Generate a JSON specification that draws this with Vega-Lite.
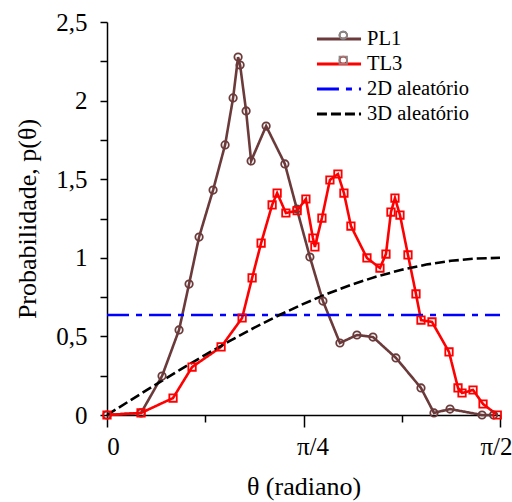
{
  "$schema": "https://vega.github.io/schema/vega-lite/v6.json",
  "width": 393,
  "height": 393,
  "autosize": {"type": "none"},
  "padding": {"left": 107, "top": 22, "right": 12, "bottom": 87},
  "config": {
    "view": {"stroke": null},
    "font": "Liberation Serif",
    "axis": {"grid": false, "domainColor": "black", "domainWidth": 1.5, "tickColor": "black", "tickWidth": 1.5, "labelColor": "black", "titleColor": "black", "titleFontWeight": "normal"},
    "legend": {"labelFont": "Liberation Serif"}
  },
  "data": {"values": [
    {"series": "PL1", "theta": 0, "p": 0},
    {"series": "PL1", "theta": 0.136, "p": 0.013},
    {"series": "PL1", "theta": 0.220, "p": 0.248},
    {"series": "PL1", "theta": 0.288, "p": 0.541},
    {"series": "PL1", "theta": 0.328, "p": 0.833},
    {"series": "PL1", "theta": 0.368, "p": 1.132},
    {"series": "PL1", "theta": 0.424, "p": 1.431},
    {"series": "PL1", "theta": 0.472, "p": 1.718},
    {"series": "PL1", "theta": 0.504, "p": 2.017},
    {"series": "PL1", "theta": 0.524, "p": 2.277},
    {"series": "PL1", "theta": 0.532, "p": 2.226},
    {"series": "PL1", "theta": 0.556, "p": 1.934},
    {"series": "PL1", "theta": 0.576, "p": 1.616},
    {"series": "PL1", "theta": 0.636, "p": 1.838},
    {"series": "PL1", "theta": 0.711, "p": 1.597},
    {"series": "PL1", "theta": 0.759, "p": 1.310},
    {"series": "PL1", "theta": 0.811, "p": 1.005},
    {"series": "PL1", "theta": 0.863, "p": 0.725},
    {"series": "PL1", "theta": 0.931, "p": 0.458},
    {"series": "PL1", "theta": 0.999, "p": 0.509},
    {"series": "PL1", "theta": 1.063, "p": 0.496},
    {"series": "PL1", "theta": 1.155, "p": 0.363},
    {"series": "PL1", "theta": 1.255, "p": 0.172},
    {"series": "PL1", "theta": 1.307, "p": 0.013},
    {"series": "PL1", "theta": 1.371, "p": 0.038},
    {"series": "PL1", "theta": 1.499, "p": 0.0},
    {"series": "PL1", "theta": 1.545, "p": 0.0},
    {"series": "TL3", "theta": 0, "p": 0},
    {"series": "TL3", "theta": 0.136, "p": 0.013},
    {"series": "TL3", "theta": 0.264, "p": 0.108},
    {"series": "TL3", "theta": 0.340, "p": 0.305},
    {"series": "TL3", "theta": 0.456, "p": 0.433},
    {"series": "TL3", "theta": 0.540, "p": 0.617},
    {"series": "TL3", "theta": 0.580, "p": 0.872},
    {"series": "TL3", "theta": 0.616, "p": 1.094},
    {"series": "TL3", "theta": 0.660, "p": 1.336},
    {"series": "TL3", "theta": 0.680, "p": 1.412},
    {"series": "TL3", "theta": 0.715, "p": 1.285},
    {"series": "TL3", "theta": 0.760, "p": 1.300},
    {"series": "TL3", "theta": 0.795, "p": 1.374},
    {"series": "TL3", "theta": 0.823, "p": 1.126},
    {"series": "TL3", "theta": 0.831, "p": 1.069},
    {"series": "TL3", "theta": 0.859, "p": 1.253},
    {"series": "TL3", "theta": 0.891, "p": 1.495},
    {"series": "TL3", "theta": 0.923, "p": 1.533},
    {"series": "TL3", "theta": 0.947, "p": 1.412},
    {"series": "TL3", "theta": 0.975, "p": 1.202},
    {"series": "TL3", "theta": 1.039, "p": 0.999},
    {"series": "TL3", "theta": 1.091, "p": 0.935},
    {"series": "TL3", "theta": 1.115, "p": 1.024},
    {"series": "TL3", "theta": 1.135, "p": 1.291},
    {"series": "TL3", "theta": 1.151, "p": 1.380},
    {"series": "TL3", "theta": 1.171, "p": 1.272},
    {"series": "TL3", "theta": 1.203, "p": 1.018},
    {"series": "TL3", "theta": 1.235, "p": 0.770},
    {"series": "TL3", "theta": 1.255, "p": 0.604},
    {"series": "TL3", "theta": 1.299, "p": 0.592},
    {"series": "TL3", "theta": 1.367, "p": 0.401},
    {"series": "TL3", "theta": 1.403, "p": 0.172},
    {"series": "TL3", "theta": 1.419, "p": 0.140},
    {"series": "TL3", "theta": 1.463, "p": 0.159},
    {"series": "TL3", "theta": 1.503, "p": 0.070},
    {"series": "TL3", "theta": 1.560, "p": 0.0},
    {"series": "2D aleatório", "theta": 0, "p": 0.6366},
    {"series": "2D aleatório", "theta": 1.5708, "p": 0.6366},
    {"series": "3D aleatório", "theta": 0, "p": 0},
    {"series": "3D aleatório", "theta": 0.0982, "p": 0.0980},
    {"series": "3D aleatório", "theta": 0.1963, "p": 0.1951},
    {"series": "3D aleatório", "theta": 0.2945, "p": 0.2903},
    {"series": "3D aleatório", "theta": 0.3927, "p": 0.3827},
    {"series": "3D aleatório", "theta": 0.4909, "p": 0.4714},
    {"series": "3D aleatório", "theta": 0.5890, "p": 0.5556},
    {"series": "3D aleatório", "theta": 0.6872, "p": 0.6344},
    {"series": "3D aleatório", "theta": 0.7854, "p": 0.7071},
    {"series": "3D aleatório", "theta": 0.8836, "p": 0.7730},
    {"series": "3D aleatório", "theta": 0.9817, "p": 0.8315},
    {"series": "3D aleatório", "theta": 1.0799, "p": 0.8819},
    {"series": "3D aleatório", "theta": 1.1781, "p": 0.9239},
    {"series": "3D aleatório", "theta": 1.2763, "p": 0.9569},
    {"series": "3D aleatório", "theta": 1.3744, "p": 0.9808},
    {"series": "3D aleatório", "theta": 1.4726, "p": 0.9952},
    {"series": "3D aleatório", "theta": 1.5708, "p": 1.0}
  ]},
  "encoding": {
    "x": {
      "field": "theta", "type": "quantitative",
      "scale": {"domain": [0, 1.5708], "nice": false, "zero": false},
      "axis": {
        "values": [0, 0.3927, 0.7854, 1.1781, 1.5708],
        "labelExpr": "datum.value < 0.1 ? '0' : (abs(datum.value - 0.7854) < 0.01 ? 'π/4' : (datum.value > 1.5 ? 'π/2' : ''))",
        "tickSize": {"condition": {"test": "abs(datum.value - 0.3927) < 0.01 || abs(datum.value - 1.1781) < 0.01", "value": 7}, "value": 12},
        "labelOffset": {"condition": [{"test": "datum.value > 1.5", "value": -4}, {"test": "abs(datum.value - 0.7854) < 0.01", "value": 9}], "value": 6},
        "labelFont": "Liberation Serif", "titleFont": "Liberation Serif",
        "labelFontSize": 25, "labelPadding": 7, "labelFlush": false,
        "title": "θ (radiano)", "titleFontSize": 26, "titlePadding": 14
      }
    },
    "y": {
      "field": "p", "type": "quantitative",
      "scale": {"domain": [0, 2.5], "nice": false},
      "axis": {
        "values": [0, 0.25, 0.5, 0.75, 1, 1.25, 1.5, 1.75, 2, 2.25, 2.5],
        "labelExpr": "(datum.value * 2) % 1 == 0 ? replace(toString(datum.value), '.', ',') : ''",
        "labelFont": "Liberation Serif", "titleFont": "Liberation Serif",
        "tickSize": 7, "labelFontSize": 25, "labelPadding": 13, "labelFlush": false,
        "title": "Probabilidade, p(θ)", "titleFontSize": 26, "titlePadding": 15
      }
    }
  },
  "layer": [
    {
      "mark": {"type": "line", "strokeWidth": 2.6},
      "encoding": {
        "color": {"field": "series", "type": "nominal",
          "scale": {"domain": ["PL1", "TL3", "2D aleatório", "3D aleatório"], "range": ["#6B3A3A", "#FF0000", "#0000FF", "#000000"]},
          "legend": {"orient": "none", "legendX": 218, "legendY": 3, "title": null, "symbolType": "M-1.8,0H1.8", "symbolSize": 600, "symbolStrokeWidth": 3, "labelFontSize": 20.5, "labelColor": "black", "labelOffset": 14, "rowPadding": 0, "padding": 0}},
        "strokeDash": {"field": "series", "type": "nominal",
          "scale": {"domain": ["PL1", "TL3", "2D aleatório", "3D aleatório"], "range": [[1, 0], [1, 0], [22, 7, 6, 7], [10, 4]]},
          "legend": {"orient": "none", "legendX": 218, "legendY": 3, "title": null, "symbolType": "M-1.8,0H1.8", "symbolSize": 600, "symbolStrokeWidth": 3, "labelFontSize": 20.5, "labelColor": "black", "labelOffset": 14, "rowPadding": 0, "padding": 0}}
      }
    },
    {
      "transform": [{"filter": "datum.series == 'PL1' || datum.series == 'TL3'"}],
      "mark": {"type": "point", "filled": false, "strokeWidth": 1.8, "size": 55, "opacity": 1},
      "encoding": {
        "color": {"field": "series", "type": "nominal",
          "legend": {"orient": "none", "legendX": 226, "legendY": 3, "title": null, "values": ["PL1", "TL3"], "symbolSize": 55, "symbolStrokeWidth": 1.8, "labelFontSize": 20.5, "labelOpacity": 0, "labelOffset": 14, "rowPadding": 4, "padding": 0}},
        "shape": {"field": "series", "type": "nominal",
          "scale": {"domain": ["PL1", "TL3"], "range": ["circle", "square"]},
          "legend": {"orient": "none", "legendX": 226, "legendY": 3, "title": null, "values": ["PL1", "TL3"], "symbolSize": 55, "symbolStrokeWidth": 1.8, "labelFontSize": 20.5, "labelOpacity": 0, "labelOffset": 14, "rowPadding": 4, "padding": 0}}
      }
    }
  ],
  "resolve": {"legend": {"color": "independent", "shape": "independent", "strokeDash": "independent"}}
}
